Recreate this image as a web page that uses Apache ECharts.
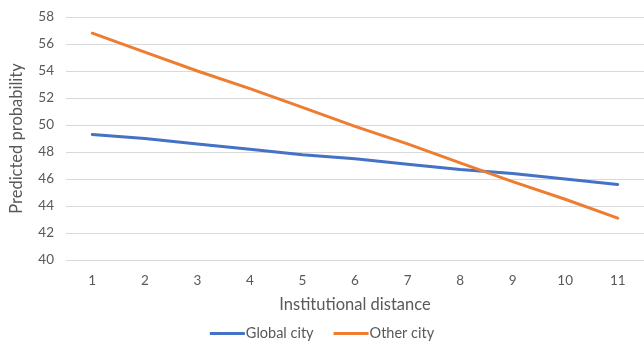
<!DOCTYPE html>
<html><head><meta charset="utf-8">
<script src="https://cdn.jsdelivr.net/npm/echarts@6/dist/echarts.min.js"></script>
<style>html,body{margin:0;padding:0;background:#fff}#c{width:644px;height:348px}</style>
</head><body><div id="c"></div>
<script>
const categories = ['1','2','3','4','5','6','7','8','9','10','11'];
const globalCity = [49.3, 49.0, 48.6, 48.2, 47.8, 47.5, 47.1, 46.7, 46.4, 46.0, 45.6];
const otherCity  = [56.8, 55.4, 54.0, 52.7, 51.3, 49.9, 48.6, 47.2, 45.8, 44.5, 43.1];
const seriesNames = ['Global city', 'Other city'];
const FONT = 'Lato';
const chart = echarts.init(document.getElementById('c'), null, {renderer:'canvas'});
chart.setOption({
  animation: false,
  textStyle: {fontFamily: FONT},
  grid: {left: 61, top: 17, right: -8, height: 243, containLabel: false},
  legend: {
    bottom: 2, left: 'center', itemWidth: 35, itemHeight: 3, itemGap: 20,
    icon: 'rect',
    textStyle: {color: '#595959', fontSize: 14.5, fontFamily: FONT, padding: [0,0,0,-4]},
    data: seriesNames
  },
  xAxis: {
    type: 'category', data: categories, boundaryGap: true,
    name: 'Institutional distance', nameLocation: 'middle', nameGap: 36,
    nameTextStyle: {color: '#595959', fontSize: 16.5, fontFamily: FONT},
    axisLine: {show: false}, axisTick: {show: false},
    axisLabel: {color: '#595959', fontSize: 13.5, margin: 14, fontFamily: FONT}
  },
  yAxis: {
    type: 'value', min: 40, max: 58, interval: 2,
    name: 'Predicted probability', nameLocation: 'middle', nameGap: 41,
    nameTextStyle: {color: '#595959', fontSize: 16.5, fontFamily: FONT},
    axisLine: {show: false}, axisTick: {show: false},
    axisLabel: {color: '#595959', fontSize: 13.5, margin: 12, fontFamily: FONT},
    splitLine: {lineStyle: {color: '#d9d9d9', width: 1}}
  },
  series: [
    {name: seriesNames[0], type: 'line', data: globalCity, symbol: 'none',
     lineStyle: {color: '#4472C4', width: 3, cap: 'round'}, itemStyle: {color: '#4472C4'}},
    {name: seriesNames[1], type: 'line', data: otherCity, symbol: 'none',
     lineStyle: {color: '#ED7D31', width: 3, cap: 'round'}, itemStyle: {color: '#ED7D31'}}
  ]
});
</script></body></html>
